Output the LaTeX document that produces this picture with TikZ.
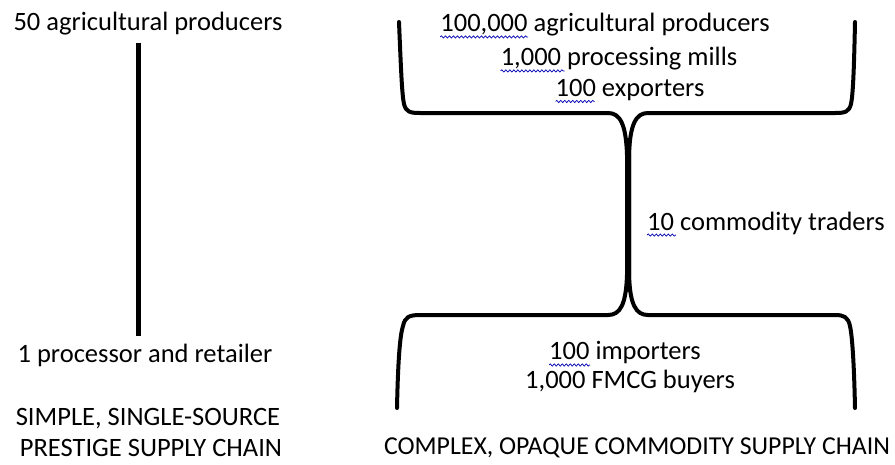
\documentclass[tikz,border=0pt]{standalone}
\usepackage{fontspec}
\setmainfont{Carlito}
\usetikzlibrary{decorations.pathmorphing}

\begin{document}
\begin{tikzpicture}[x=1pt,y=-1pt,
    txt/.style={font=\fontsize{26.5}{30}\selectfont, inner sep=0pt},
    bar/.style={line width=5pt},
    brace/.style={line width=4pt, line cap=round, line join=round},
    squig/.style={draw=blue!70!black, line width=0.7pt,
        decorate, decoration={snake, segment length=4pt, amplitude=1.1pt}}]
    \useasboundingbox (0,0) rectangle (895,464);

    % simple chain
    \node[txt] (prod) at (148,24) {50 agricultural producers};
    \node[txt] (proc) at (145,355) {1 processor and retailer};
    \node[txt] (simple) at (148,419) {SIMPLE, SINGLE-SOURCE};
    \node[txt] (prestige) at (151,448) {PRESTIGE SUPPLY CHAIN};
    \draw[bar] ([xshift=-10pt,yshift=-7pt]prod.south) -- ([xshift=-7pt,yshift=7pt]proc.north);

    % complex chain
    \node[txt] (prod100k) at (605,25) {100,000 agricultural producers};
    \node[txt] (mills) at (619,59) {1,000 processing mills};
    \node[txt] (export) at (630,90) {100 exporters};
    \node[txt] (traders) at (766,223) {10 commodity traders};
    \node[txt] (import) at (625,353) {100 importers};
    \node[txt] (fmcg) at (630,381) {1,000 FMCG buyers};
    \node[txt, font=\fontsize{25.8}{30}\selectfont] (complex) at (637,448) {COMPLEX, OPAQUE COMMODITY SUPPLY CHAIN};

    % upper brace
    \draw[brace] (399,22) .. controls (401,70) and (402,95) .. (404,104)
        .. controls (406,112) and (410,113) .. (420,113) -- (608,113)
        .. controls (620,113) and (626,124) .. (627,155) -- (627,290);
    \draw[brace] (855,22) .. controls (854,70) and (853,95) .. (851,104)
        .. controls (849,112) and (845,113) .. (835,113) -- (648,113)
        .. controls (636,113) and (630,124) .. (629,155) -- (629,290);
    % lower brace
    \draw[brace] (397,408) .. controls (398,360) and (400,335) .. (403,326)
        .. controls (405,317) and (409,315) .. (420,315) -- (608,315)
        .. controls (620,315) and (626,305) .. (627,275) -- (627,140);
    \draw[brace] (855,408) .. controls (854,360) and (852,335) .. (850,326)
        .. controls (848,317) and (844,315) .. (835,315) -- (648,315)
        .. controls (636,315) and (630,305) .. (629,275) -- (629,140);

    % spell-check marks
    \draw[squig] ([yshift=-5pt]prod100k.base west) -- ++(88,0);
    \draw[squig] ([yshift=-5pt]mills.base west) -- ++(64,0);
    \draw[squig] ([yshift=-5pt]export.base west) -- ++(39,0);
    \draw[squig] ([yshift=-5pt]traders.base west) -- ++(29,0);
    \draw[squig] ([yshift=-5pt]import.base west) -- ++(41,0);
\end{tikzpicture}
\end{document}
